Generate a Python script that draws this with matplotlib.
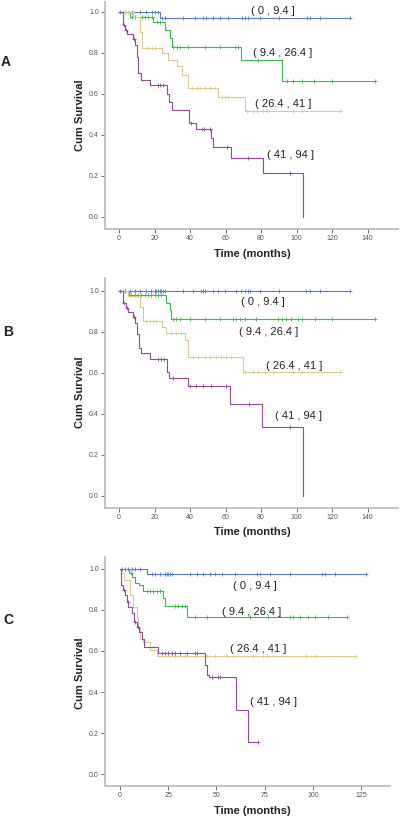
import numpy as np
import matplotlib
matplotlib.use("Agg")
import matplotlib.pyplot as plt

plt.rcParams['font.family'] = ['Liberation Sans', 'DejaVu Sans']

group_labels = ["( 0 , 9.4 ]", "( 9.4 , 26.4 ]", "( 26.4 , 41 ]", "( 41 , 94 ]"]
colors = ["#5577d6", "#3cba48", "#d9cb8a", "#8f4a9d"]

# ---- panel A : event times, survival after each event, censor times, last follow-up
a_blue_t = [23.1]
a_blue_s = [0.968]
a_blue_c = [0.6, 3.4, 5.3, 7.1, 11.8, 15.2, 18.4, 20.3, 22.1, 24, 25.9, 36.2, 42.8, 47.5,
            48.8, 53.1, 56.8, 61.5, 69.1, 70.9, 72.8, 79.4, 90.3, 105.6, 107.5, 113.1, 130]
a_blue_end = 130

a_green_t = [6.2, 19.3, 25.9, 28.7, 30.0, 68.5, 91.6]
a_green_s = [0.976, 0.948, 0.91, 0.87, 0.83, 0.765, 0.664]
a_green_c = [7.1, 9, 12.8, 14.6, 16.5, 18.4, 21.2, 23.1, 30.6, 32.5, 34.3, 39, 48.4, 56.8,
             65.3, 67.2, 78.4, 94.4, 98.1, 102.8, 109.8, 119.7, 144.1]
a_green_end = 144.1

a_tan_t = [8.1, 11.8, 13.0, 24.0, 27.8, 32.5, 35.3, 39.0, 55.9, 70.9]
a_tan_s = [0.976, 0.90, 0.825, 0.797, 0.765, 0.735, 0.69, 0.627, 0.586, 0.516]
a_tan_c = [3.4, 5.3, 16.5, 18.4, 20.3, 40.9, 43.7, 45.6, 48.4, 51.2, 54, 57.8, 59.7, 61.5,
           71.9, 75.6, 77.5, 81.2, 83.1, 98.1, 102.8, 124.4]
a_tan_end = 124.4

a_purple_t = [2.4, 3.4, 4.7, 8.1, 9.0, 9.9, 10.9, 12.4, 17.4, 26.8, 28.3, 30.0, 39.4, 43.3,
              51.8, 52.7, 62.9, 80.9, 103.8]
a_purple_s = [0.935, 0.91, 0.89, 0.865, 0.84, 0.78, 0.70, 0.667, 0.643, 0.60, 0.56, 0.521,
              0.459, 0.427, 0.386, 0.342, 0.286, 0.213, 0.0]
a_purple_c = [3.0, 4.0, 8.5, 21.8, 23.1, 25, 40.5, 47, 48, 51.5, 60.6, 72.8, 96.3]
a_purple_end = 103.8

# ---- panel B
b_blue_t = []
b_blue_s = []
b_blue_c = [0.4, 3.2, 6, 8.8, 11.6, 15.4, 18.2, 20.1, 21, 22, 22.9, 23.8, 24.8, 25.7, 36,
            41.7, 46.3, 47.3, 48.2, 52.9, 55.7, 59.5, 66, 68.9, 70.8, 72.7, 73.6, 79.2,
            90.2, 105.5, 107.4, 113, 130]
b_blue_end = 130

b_green_t = [5.6, 26.6, 28.5, 29.5]
b_green_s = [0.979, 0.94, 0.906, 0.862]
b_green_c = [6.9, 8.8, 10.7, 12.6, 14.4, 16.3, 18.2, 20.1, 22, 23.8, 30.4, 32.3, 34.1, 39.8,
             48.2, 56.7, 64.2, 66, 67.9, 70.7, 77.3, 89.6, 91.5, 94.3, 97.1, 100.9, 102.8,
             110.3, 119.7, 144]
b_green_end = 144

b_tan_t = [5.0, 12.0, 13.5, 24.4, 26.6, 37.0, 38.8, 69.8]
b_tan_s = [0.976, 0.92, 0.854, 0.824, 0.792, 0.759, 0.678, 0.605]
b_tan_c = [3.0, 15.4, 17.3, 19.1, 21, 29.5, 32.3, 35.1, 41.7, 44.5, 48.2, 51, 54.8, 57.6,
           60.4, 63.2, 70.8, 75.5, 78.3, 82.1, 86.8, 98.1, 102.8, 124.4]
b_tan_end = 124.4

b_purple_t = [2.3, 3.8, 5.1, 7.9, 9.2, 10.1, 11.3, 12.2, 17.3, 27.0, 28.1, 38.8, 62.7,
              80.7, 103.6]
b_purple_s = [0.938, 0.914, 0.898, 0.873, 0.84, 0.79, 0.72, 0.694, 0.667, 0.605, 0.572,
              0.535, 0.447, 0.337, 0.0]
b_purple_c = [3.0, 4.5, 8.5, 22, 23.8, 25.1, 30.4, 39.8, 43.2, 47.3, 52, 60.4, 73.2, 96.1]
b_purple_end = 103.6

# ---- panel C
c_blue_t = [14.2]
c_blue_s = [0.974]
c_blue_c = [0.9, 2.6, 4.3, 6.1, 7.8, 10.4, 16.4, 18.2, 20.7, 23.3, 24.2, 25.1, 25.9, 26.8,
            36.3, 39.8, 43.2, 46.7, 49.3, 52.7, 59.6, 70.9, 72.6, 77.8, 88.2, 104.6, 106.3,
            111.5, 127.6]
c_blue_end = 127.6

c_green_t = [4.8, 6.1, 7.8, 9.9, 12.1, 22.5, 23.3, 34.6]
c_green_s = [0.98, 0.961, 0.932, 0.92, 0.893, 0.856, 0.82, 0.763]
c_green_c = [5.5, 13.8, 15.6, 17.3, 19, 20.7, 28.5, 30.3, 32, 33.7, 38.9, 45, 67.4, 76.9,
             88.2, 89.9, 93.4, 97.7, 101.2, 108.1, 117.6]
c_green_end = 117.6

c_tan_t = [0.5, 2.0, 5.2, 6.9, 8.6, 9.5, 10.4, 12.1, 15.6, 19.0]
c_tan_s = [0.977, 0.945, 0.872, 0.815, 0.758, 0.71, 0.658, 0.645, 0.605, 0.577]
c_tan_c = [13.0, 28.5, 33.7, 38.9, 45, 49.3, 55.3, 58.8, 69, 74.3, 76, 96.3, 101.5, 121.9]
c_tan_end = 121.9

c_purple_t = [0.3, 1.7, 2.6, 3.5, 4.3, 6.1, 7.3, 8.6, 10.0, 11.2, 12.6, 19.9, 44.1, 45.0,
              46.2, 60.2, 66.6]
c_purple_s = [0.92, 0.896, 0.872, 0.84, 0.815, 0.783, 0.742, 0.718, 0.694, 0.656, 0.617,
              0.588, 0.532, 0.483, 0.472, 0.313, 0.158]
c_purple_c = [2.2, 4.0, 7.8, 9.5, 21.6, 23.3, 25.1, 26.8, 28.5, 31.1, 34.6, 38.9, 39.8,
              47.5, 51, 51.9, 71.7]
c_purple_end = 71.7

a_xticks = [0, 20, 40, 60, 80, 100, 120, 140]
c_xticks = [0, 25, 50, 75, 100, 125]
yticks = [0.0, 0.2, 0.4, 0.6, 0.8, 1.0]

a_label_xy = [(86.7, 1.005), (92.3, 0.799), (92.3, 0.55), (96.3, 0.302)]
b_label_xy = [(80.9, 0.945), (84.0, 0.80), (98.9, 0.633), (100.8, 0.39)]
c_label_xy = [(70.0, 0.917), (68.3, 0.79), (71.7, 0.608), (79.5, 0.353)]

W, H = 400, 817
fig = plt.figure(figsize=(W / 100, H / 100), dpi=100)


def px_axes(left, top, right, bottom):
    return fig.add_axes([left / W, 1 - bottom / H, (right - left) / W, (bottom - top) / H])


def km(ax, t, s, c, end, color):
    xs = [0] + list(t) + [end]
    ys = [1.0] + list(s) + [s[-1] if len(s) else 1.0]
    ax.step(xs, ys, where='post', color=color, lw=0.8)
    if len(c):
        tt = np.array([0] + list(t))
        ss = np.array([1.0] + list(s))
        idx = np.searchsorted(tt, c, side='right') - 1
        ax.plot(c, ss[idx], ls='none', marker='+', ms=2.6, mew=0.6, color=color)


def style(ax, xlim, ylim, xticks):
    ax.set_xlim(*xlim)
    ax.set_ylim(*ylim)
    ax.set_xticks(xticks)
    ax.set_yticks(yticks)
    ax.set_yticklabels(["%.1f" % v for v in yticks])
    for side in ['top', 'right']:
        ax.spines[side].set_visible(False)
    for side in ['left', 'bottom']:
        ax.spines[side].set_color('#b8b8b8')
        ax.spines[side].set_linewidth(1.2)
    ax.tick_params(labelsize=5, colors='#555555', length=3, width=0.6, pad=1.5)
    ax.patch.set_alpha(0)


panels = [
    ("A", (105, 2, 398, 228.7), (-7.9, 157.1), (-0.057, 1.047), a_xticks,
     [(a_blue_t, a_blue_s, a_blue_c, a_blue_end), (a_green_t, a_green_s, a_green_c, a_green_end),
      (a_tan_t, a_tan_s, a_tan_c, a_tan_end), (a_purple_t, a_purple_s, a_purple_c, a_purple_end)],
     a_label_xy, (6, 62), 115, 254),
    ("B", (105, 278.3, 398, 507.7), (-7.9, 157.1), (-0.0585, 1.06), a_xticks,
     [(b_blue_t, b_blue_s, b_blue_c, b_blue_end), (b_green_t, b_green_s, b_green_c, b_green_end),
      (b_tan_t, b_tan_s, b_tan_c, b_tan_end), (b_purple_t, b_purple_s, b_purple_c, b_purple_end)],
     b_label_xy, (8, 332), 391.7, 532),
    ("C", (105, 557.3, 390, 785.7), (-7.8, 140.0), (-0.0554, 1.055), c_xticks,
     [(c_blue_t, c_blue_s, c_blue_c, c_blue_end), (c_green_t, c_green_s, c_green_c, c_green_end),
      (c_tan_t, c_tan_s, c_tan_c, c_tan_end), (c_purple_t, c_purple_s, c_purple_c, c_purple_end)],
     c_label_xy, (8, 620), 673.3, 810.7),
]

for letter, box, xlim, ylim, xt, curves, lab_xy, let_xy, ylab_y, xlab_y in panels:
    ax = px_axes(*box)
    style(ax, xlim, ylim, xt)
    for (t, s, c, end), col in zip(curves, colors):
        km(ax, t, s, c, end, col)
    for (x, y), lab in zip(lab_xy, group_labels):
        ax.text(x, y, lab, ha='center', va='center', fontsize=8, color='#222222')
    fig.text(let_xy[0] / W, 1 - let_xy[1] / H, letter, ha='center', va='center',
             fontsize=10, fontweight='bold', color='#222222')
    fig.text(80 / W, 1 - ylab_y / H, "Cum Survival", rotation=90, ha='center', va='center',
             fontsize=8, fontweight='bold', color='#222222')
    fig.text(252 / W, 1 - xlab_y / H, "Time (months)", ha='center', va='center',
             fontsize=8, fontweight='bold', color='#222222')

fig.savefig("out.png", dpi=100)
